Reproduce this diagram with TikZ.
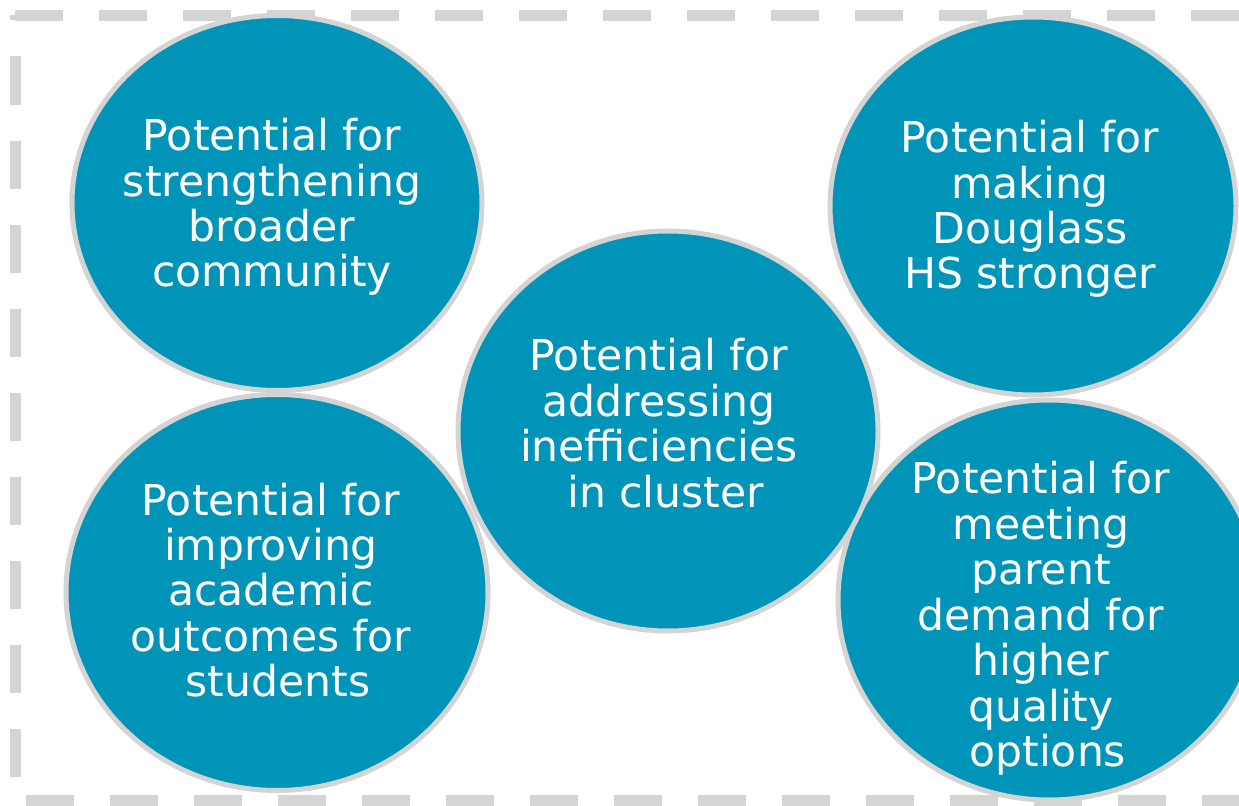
\documentclass[tikz,border=0pt]{standalone}
\usepackage{fontspec}
\setmainfont{DejaVu Sans}
\usetikzlibrary{shapes.geometric}
\definecolor{bubblefill}{RGB}{0,148,184}
\definecolor{bubbleline}{RGB}{212,212,212}
\definecolor{frameline}{RGB}{212,212,212}
\begin{document}
\begin{tikzpicture}[x=1bp,y=-1bp,
  bubble/.style={ellipse, draw=bubbleline, fill=bubblefill, line width=5bp, inner sep=0pt},
  bubbletext/.style={text=white, align=center, inner sep=0pt, font=\fontsize{42.7}{45.6}\selectfont},
  frameside/.style={draw=frameline, line width=11bp, dash pattern=on 48bp off 36bp}
]
\useasboundingbox (0,0) rectangle (1239,806);
% dashed frame
\coordinate (ftl) at (15,15.5);
\coordinate (ftr) at (1270,15.5);
\coordinate (fbl) at (15,800.5);
\coordinate (fbr) at (1270,800.5);
\draw[frameside, dash phase=0bp] (ftl) -- (ftr);
\draw[frameside, dash phase=43bp] (ftl) -- (fbl);
\draw[frameside, dash phase=73bp] (fbl) -- (fbr);
% bubbles
\node[bubble, minimum width=410bp, minimum height=375bp] (tl) at (277,203) {};
\node[bubble, minimum width=422bp, minimum height=396bp] (bl) at (277,592.5) {};
\node[bubble, minimum width=406bp, minimum height=378bp] (tr) at (1033,206) {};
\node[bubble, minimum width=422bp, minimum height=400bp] (br) at (1049,600) {};
\node[bubble, minimum width=420bp, minimum height=400bp] (c) at (668,431) {};
% texts
\node[bubbletext] (tltext) at (272,207) {Potential for\\strengthening\\broader\\community};
\node[bubbletext] (trtext) at (1030,209) {Potential for\\making\\Douglass\\HS stronger};
\node[bubbletext] (ctext) at (659,423) {Potential for\\addressing\\inefficiencies\\\ in cluster};
\node[bubbletext] (bltext) at (271,590) {Potential for\\improving\\academic\\outcomes for\\\ students};
\node[bubbletext] (brtext) at (1041,618.5) {Potential for\\meeting\\parent\\demand for\\higher\\quality\\\ options};
\end{tikzpicture}
\end{document}
